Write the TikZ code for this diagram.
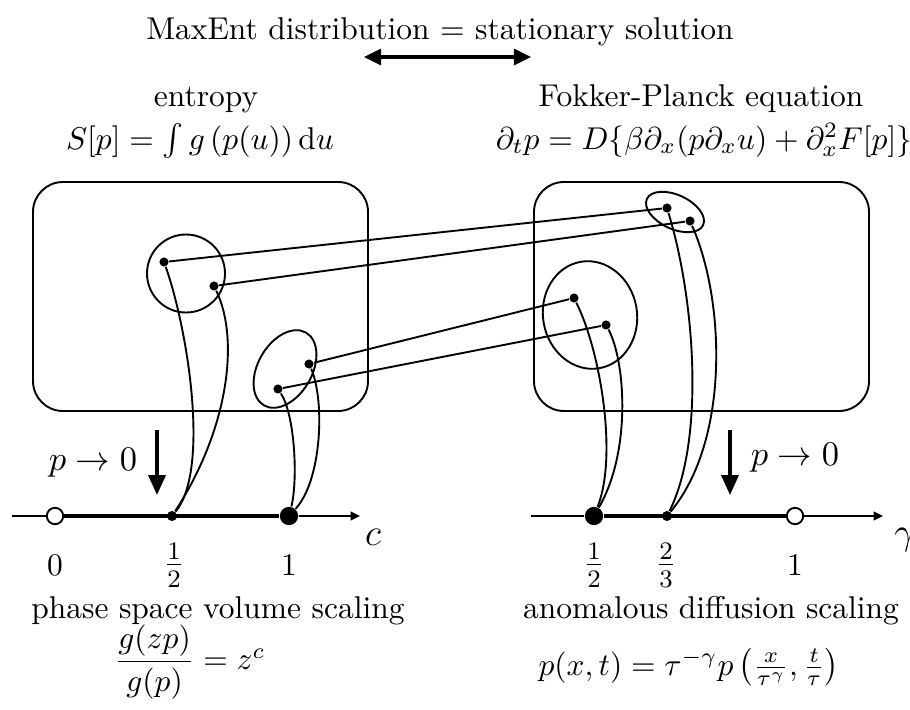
\documentclass[tikz,border=0pt]{standalone}
\usepackage{amsmath}
\usetikzlibrary{arrows.meta}

\begin{document}
\begin{tikzpicture}[x=.3175pt,y=-.3175pt,
  link/.style={line width=.6pt},
  region/.style={line width=.6pt,rounded corners=9.5pt},
  dot/.style={circle,fill,inner sep=0pt,minimum size=2.9pt},
  bigdot/.style={circle,fill,inner sep=0pt,minimum size=5.8pt},
  opendot/.style={circle,draw,fill=white,line width=.6pt,inner sep=0pt,minimum size=5.2pt},
  axisarrow/.style={line width=.6pt,-{Triangle[length=3pt,width=2.8pt]}},
  bar/.style={line width=1.4pt},
  limit/.style={line width=1.05pt,-{Triangle[length=6.3pt,width=5.4pt]}},
  txt/.style={inner sep=.5pt},
  limitfont/.style={font=\fontsize{11}{13}\selectfont},
  fracfont/.style={font=\fontsize{11.5}{14}\selectfont},
  axisfont/.style={font=\fontsize{13}{15}\selectfont}]
\path[use as bounding box] (0,0) rectangle (910,709);

\node[txt,anchor=base] (title) at (440,39) {MaxEnt distribution $=$ stationary solution};
\coordinate (dl) at (364,57);
\coordinate (dr) at (531,57);
\draw[line width=1pt,{Triangle[length=5.4pt,width=5.1pt]}-{Triangle[length=5.4pt,width=5.1pt]}] (dl) -- (dr);

\node[txt,anchor=base] (entr) at (206,106) {entropy};
\node[txt,anchor=base] (sform) at (200,149) {$S[p]=\int g\left(p(u)\right)\mathrm{d}u$};
\node[txt,anchor=base] (fp) at (701,106) {Fokker-Planck equation};
\node[txt,anchor=base] (fpform) at (704,149) {$\partial_tp=D\{\beta\partial_x(p\partial_xu)+\partial_x^2F[p]\}$};

\draw[region] (33,182) rectangle (368,411);
\draw[region] (534,182) rectangle (869,411);
\draw[link] (186,273.5) circle[radius=39];
\draw[link,rotate around={60:(285,369)}] (285,369) ellipse[x radius=42,y radius=27];
\draw[link,rotate around={-25:(675,212)}] (675,212) ellipse[x radius=31,y radius=17];
\draw[link,rotate around={10:(590,315)}] (590,315) ellipse[x radius=47,y radius=54];

\node[dot] (la1) at (164,262) {};
\node[dot] (la2) at (214,286) {};
\node[dot] (lb1) at (309,364) {};
\node[dot] (lb2) at (278,389) {};
\node[dot] (ra1) at (667,208) {};
\node[dot] (ra2) at (690,221) {};
\node[dot] (rb1) at (574,298) {};
\node[dot] (rb2) at (606,325) {};

\draw[link] (la1) -- (ra1);
\draw[link] (la2) -- (ra2);
\draw[link] (lb1) -- (rb1);
\draw[link] (lb2) -- (rb2);

\coordinate (cfrom) at (12,516);
\coordinate (cto) at (360,516);
\node[opendot] (c0) at (55,516) {};
\node[dot,minimum size=3.2pt] (chalf) at (172,516) {};
\node[bigdot] (cone) at (289,516) {};
\draw[link] (cfrom) -- (c0);
\draw[bar] (c0) -- (cone);
\draw[axisarrow] (cone) -- (cto);

\coordinate (gfrom) at (531,516);
\coordinate (gto) at (883,516);
\node[bigdot] (ghalf) at (594,516) {};
\node[dot,minimum size=3.2pt] (gtwo) at (667,516) {};
\node[opendot] (gone) at (795,516) {};
\draw[link] (gfrom) -- (ghalf);
\draw[bar] (ghalf) -- (gone);
\draw[axisarrow] (gone) -- (gto);

\draw[link] (la1) .. controls (188,330) and (210,470) .. (chalf);
\draw[link] (la2) .. controls (240,340) and (228,430) .. (chalf);
\draw[link] (lb1) .. controls (325,400) and (322,480) .. (cone);
\draw[link] (lb2) .. controls (295,415) and (298,480) .. (cone);
\draw[link] (rb1) .. controls (600,350) and (618,455) .. (ghalf);
\draw[link] (rb2) .. controls (625,360) and (632,450) .. (ghalf);
\draw[link] (ra1) .. controls (695,300) and (705,440) .. (gtwo);
\draw[link] (ra2) .. controls (725,300) and (730,440) .. (gtwo);

\coordinate (lt) at (157,430);
\coordinate (lb) at (157,495);
\draw[limit] (lt) -- (lb);
\node[limitfont] (plim) at (93,463) {$p\to0$};
\coordinate (rt) at (730,430);
\coordinate (rbot) at (730,495);
\draw[limit] (rt) -- (rbot);
\node[limitfont] (glim) at (795,458) {$p\to0$};

\node[axisfont] (clab) at (373,537) {$c$};
\node[axisfont] (glab) at (905,540) {$\gamma$};
\node (t0) at (55,565) {$0$};
\node[fracfont] (thalf) at (174,565) {$\frac{1}{2}$};
\node (tone) at (289,565) {$1$};
\node[fracfont] (shalf) at (594,565) {$\frac{1}{2}$};
\node[fracfont] (stwo) at (666,565) {$\frac{2}{3}$};
\node (sone) at (795,565) {$1$};

\node[txt,anchor=base] (phase) at (218,618) {phase space volume scaling};
\node[txt] (pform) at (190,662) {$\dfrac{g(zp)}{g(p)}=z^c$};
\node[txt,anchor=base] (anom) at (711,618) {anomalous diffusion scaling};
\node[txt,anchor=base] (aform) at (689,675) {$p(x,t)=\tau^{-\gamma}p\left(\frac{x}{\tau^\gamma},\frac{t}{\tau}\right)$};
\end{tikzpicture}
\end{document}
